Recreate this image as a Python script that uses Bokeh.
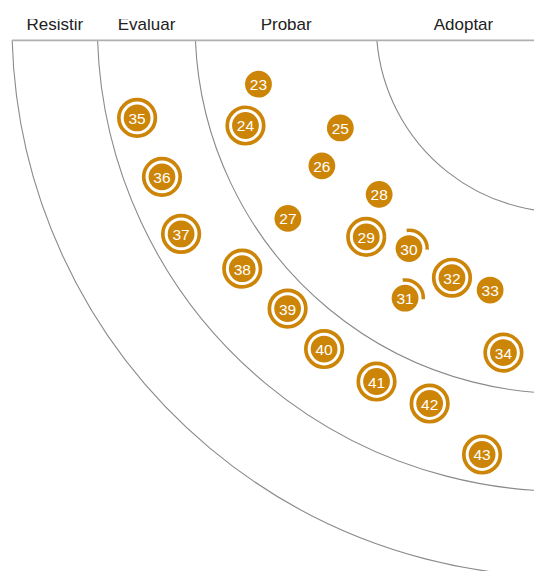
import math
from bokeh.plotting import figure
from bokeh.models import Range1d, ColumnDataSource
from bokeh.embed import file_html
from bokeh.resources import INLINE
from bokeh.core.properties import value

# ---------------- data ----------------
ring_names = ["Adoptar", "Probar", "Evaluar", "Resistir"]
ring_radii = [193.0, 379.6, 480.3, 568.2]

blip_ids = [23, 24, 25, 26, 27, 28, 29, 30, 31, 32, 33, 34,
            35, 36, 37, 38, 39, 40, 41, 42, 43]
blip_x = [265.7, 252.3, 350.0, 331.0, 296.0, 390.0, 376.7, 420.7, 416.7, 465.0, 504.3, 518.0,
          140.7, 166.3, 186.0, 249.0, 295.7, 333.3, 387.3, 442.0, 496.0]
blip_y = [86.0, 128.5, 131.0, 170.0, 224.0, 199.3, 243.0, 255.0, 306.0, 285.0, 297.7, 362.0,
          120.7, 181.3, 240.0, 275.7, 316.7, 358.3, 391.7, 414.3, 466.7]
blip_status = ["none", "new", "none", "none", "none", "none", "new", "moved", "moved", "new", "none", "new",
               "new", "new", "new", "new", "new", "new", "new", "new", "new"]

# ---------------- layout / style ----------------
CX, CY = 580.0, 25.0          # radar centre (reference pixels)
LINE_Y = 41.0                 # top axis line
ORANGE = "#CD8508"
W, H = 534, 571
REF_W, REF_H = 550.0, 587.0
CLIP_Y = 19.0                 # labels are cut off above this line

p = figure(width=W, height=H, output_backend="svg", toolbar_location=None,
           x_axis_location=None, y_axis_location=None,
           x_range=Range1d(0, REF_W), y_range=Range1d(REF_H, 0),
           min_border=0, outline_line_color=None,
           background_fill_color="white", border_fill_color="white")
p.grid.grid_line_color = None

dy = LINE_Y - CY
# ring arcs
for r in ring_radii:
    a0 = math.pi + math.asin(dy / r)
    p.arc(x=CX, y=CY, radius=r, start_angle=a0, end_angle=1.5 * math.pi + 0.15,
          direction="anticlock", line_color="#8a8a8a", line_width=1.1)

# top line
x_left = CX - math.sqrt(ring_radii[-1] ** 2 - dy ** 2)
p.segment(x0=[x_left], y0=[LINE_Y], x1=[600], y1=[LINE_Y], line_color="#b0b0b0", line_width=1.6)

# ring labels
bounds = [CX - math.sqrt(r ** 2 - dy ** 2) for r in ring_radii]
label_x = []
prev = 566.0
for b in bounds:
    label_x.append((prev + b) / 2)
    prev = b
p.text(x=label_x, y=[24.5] * 4, text=ring_names, text_align="center", text_baseline="alphabetic",
       text_font=value("Liberation Sans"), text_font_size="17px", text_color="#222222")
# the original view cuts the tops of the labels off
p.quad(left=[-10], right=[REF_W + 10], bottom=[CLIP_Y], top=[-10],
       fill_color="white", line_color=None)

src = ColumnDataSource(dict(x=blip_x, y=blip_y, t=[str(i) for i in blip_ids], s=blip_status))
new_idx = [i for i, s in enumerate(blip_status) if s == "new"]
mov_idx = [i for i, s in enumerate(blip_status) if s == "moved"]

p.circle(x=[blip_x[i] for i in new_idx], y=[blip_y[i] for i in new_idx], radius=18.8,
         fill_color=None, line_color=ORANGE, line_width=3.7)
p.arc(x=[blip_x[i] for i in mov_idx], y=[blip_y[i] for i in mov_idx], radius=18.8,
      start_angle=-0.06, end_angle=1.7, direction="anticlock", line_color=ORANGE, line_width=3.5)
p.circle(x="x", y="y", radius=13.8, source=src, fill_color=ORANGE, line_color=None)
p.text(x="x", y="y", text="t", source=src, text_align="center", text_baseline="middle",
       text_font=value("Liberation Sans"), text_font_size="15.5px", text_color="white", y_offset=1)

open("out.html", "w").write(file_html(p, INLINE))
